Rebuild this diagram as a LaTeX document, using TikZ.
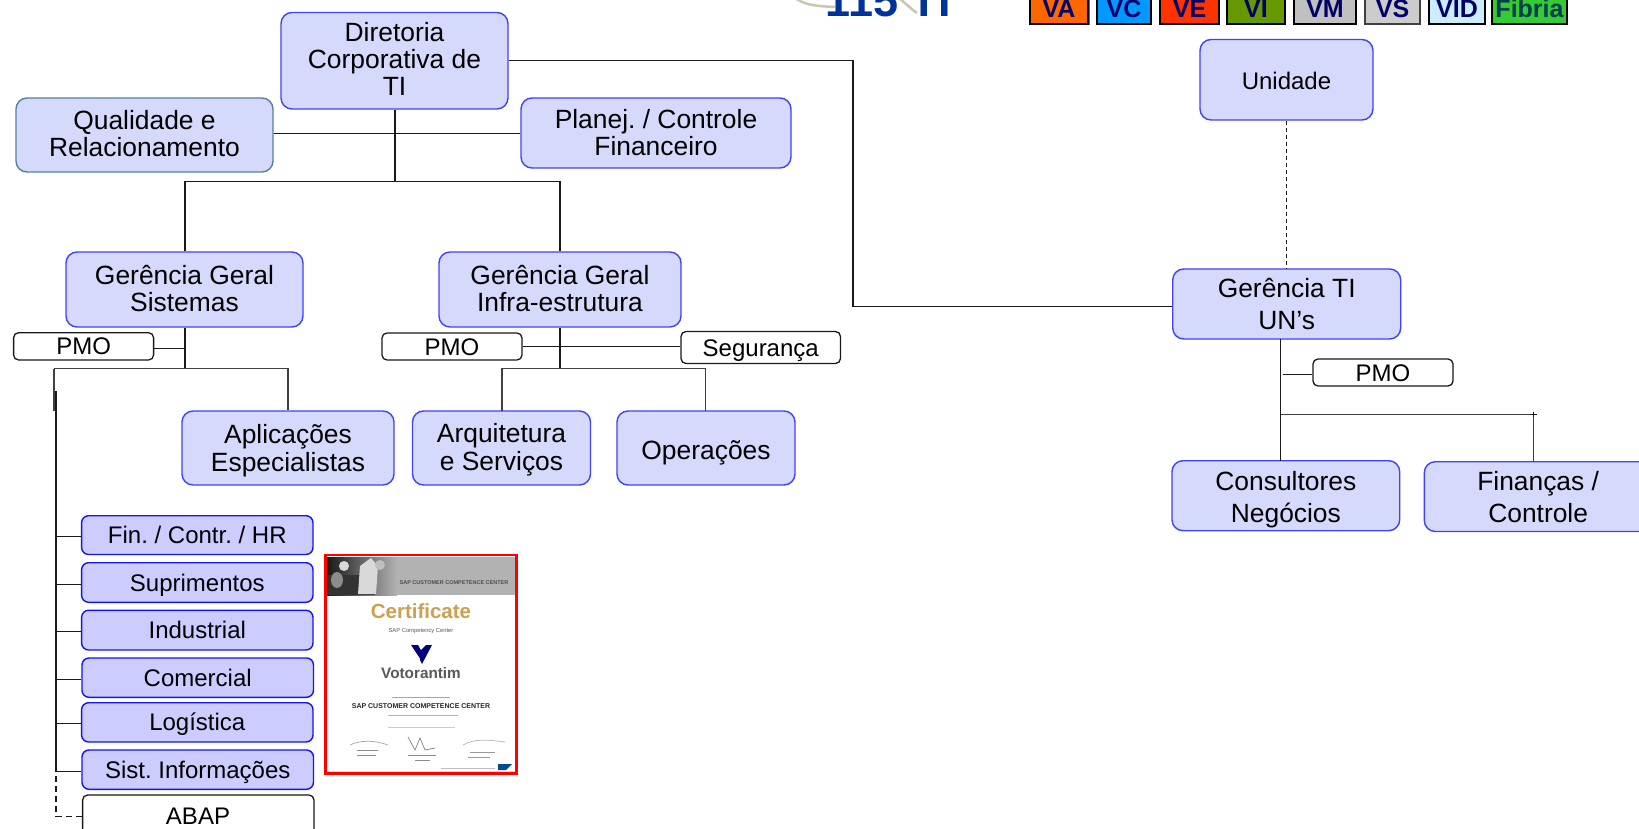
\documentclass[tikz,border=0pt]{standalone}
\usepackage{fontspec}
\setmainfont{Liberation Sans}
\frenchspacing
\definecolor{fillA}{RGB}{213,217,251}
\definecolor{fillB}{RGB}{204,204,255}
\definecolor{edgeA}{RGB}{65,65,245}
\definecolor{edgeB}{RGB}{20,20,240}
\definecolor{edgeQ}{RGB}{85,130,150}
\definecolor{wire}{RGB}{25,25,25}
\definecolor{navy}{RGB}{0,0,102}
\definecolor{tiblue}{RGB}{0,51,153}
\definecolor{logoarc}{RGB}{200,200,175}
\tikzset{
  big/.style={font=\fontsize{26.4}{27}\selectfont,align=center,text=black},
  widebox/.style={unitbox,font=\fontsize{26.4}{28}\selectfont},
  unitbox/.style={big,draw=edgeA,fill=fillA,line width=1.4pt,rounded corners=11pt,inner sep=0pt},
  tallbox/.style={unitbox,font=\fontsize{26.4}{32}\selectfont},
  listbox/.style={draw=edgeB,fill=fillB,line width=1.4pt,rounded corners=7pt,inner sep=0pt,font=\fontsize{24}{26}\selectfont,text=black,text height=17.2pt,text depth=0pt},
  whitebox/.style={draw=wire,fill=white,line width=1.3pt,rounded corners=5pt,inner sep=0pt,font=\fontsize{24}{26}\selectfont,text=black,text height=17.2pt,text depth=0pt},
  wireline/.style={draw=wire,line width=1.6pt},
  thickline/.style={draw=black!75,line width=1.9pt},
  dashline/.style={draw=wire,line width=1.3pt,dash pattern=on 6pt off 4pt},
  tab/.style={draw=black,line width=2pt,inner sep=0pt},
  tabtext/.style={font=\fontsize{25}{25}\selectfont\bfseries,text=navy,anchor=base,inner sep=0pt},
}
% name, x1, y1, x2, y2, style, text
\newcommand{\bx}[7]{\node[#6,minimum width={(#4-#2)*1pt},minimum height={(#5-#3)*1pt}] (#1) at ({(#2+#4)/2},{(#3+#5)/2}) {#7};}
\newcommand{\tall}[1]{\rule{0pt}{#1}}
\newcommand{\deep}[1]{\rule[-#1]{0pt}{#1}}
\begin{document}
\begin{tikzpicture}[x=1pt,y=-1pt]
\useasboundingbox (0,0) rectangle (1639,829);
\fill[white] (0,0) rectangle (1639,829);
\clip (0,0) rectangle (1639,829);

% logo arcs and title
\draw[color=logoarc,line width=2.5pt] (795,-2) .. controls (805,5) and (815,6) .. (835,7);
\draw[color=logoarc,line width=2.5pt] (899,-2) .. controls (905,3) and (910,8) .. (917,13);
\node[font=\fontsize{45}{45}\selectfont\bfseries,text=tiblue,anchor=base,inner sep=0pt] (title) at (888,17) {115 TI};

% tabs
\fill[black!60] (1029,-5) rectangle (1090,25);
\draw[tab,fill={rgb,255:red,255;green,102;blue,0}] (1030,-5) rectangle (1088,24);
\node[tabtext] (tva) at (1059,18) {VA};
\draw[tab,fill={rgb,255:red,0;green,153;blue,255}] (1097,-5) rectangle (1151,24);
\node[tabtext] (tvc) at (1124,18) {VC};
\draw[tab,fill={rgb,255:red,255;green,51;blue,0}] (1160,-5) rectangle (1219,24);
\node[tabtext] (tve) at (1189.5,18) {VE};
\draw[tab,fill={rgb,255:red,102;green,153;blue,0}] (1227,-5) rectangle (1285,24);
\node[tabtext] (tvi) at (1256,18) {VI};
\draw[tab,fill={rgb,255:red,192;green,192;blue,192}] (1294,-5) rectangle (1356,24);
\node[tabtext] (tvm) at (1325,18) {VM};
\draw[tab,draw=black!75,fill={rgb,255:red,204;green,204;blue,204}] (1365,-5) rectangle (1420,24);
\node[tabtext] (tvs) at (1392.5,18) {VS};
\draw[tab,fill={rgb,255:red,204;green,236;blue,255}] (1429,-5) rectangle (1485,24);
\node[tabtext] (tvid) at (1457,18) {VID};
\draw[tab,fill={rgb,255:red,51;green,204;blue,51}] (1492,-5) rectangle (1567,24);
\node[tabtext,text={rgb,255:red,0;green,60;blue,80}] (tfib) at (1529.5,18) {Fibria};

% coordinates for junctions
\coordinate (jtop) at (395,181.5);
\coordinate (jl) at (184.7,181.5);
\coordinate (jr) at (559.7,181.5);
\coordinate (jsys) at (184.7,368.5);
\coordinate (jinf) at (559.7,368.5);
\coordinate (jrt) at (853,60.5);
\coordinate (jrb) at (853,306.5);
\coordinate (jpmo) at (1283,374.5);
\coordinate (jun) at (1280.5,414.5);
\coordinate (junr) at (1533.5,414.5);
\coordinate (jlist) at (54,368.5);
\coordinate (jlist2) at (56,391);

% boxes
\bx{dir}{281}{12.5}{508}{109}{unitbox}{Diretoria\\Corporativa de\\TI\deep{4pt}}
\bx{qual}{16}{98}{273}{172}{unitbox,draw=edgeQ}{Qualidade e\\Relacionamento\deep{4pt}}
\bx{plan}{521}{98}{791}{168}{unitbox}{Planej. / Controle\\Financeiro}
\bx{ggs}{66}{252}{303}{327}{unitbox}{Gerência Geral\\Sistemas\deep{2pt}}
\bx{ggi}{439}{252}{681}{327}{unitbox}{Gerência Geral\\Infra-estrutura\deep{2pt}}
\bx{apl}{182}{411}{394}{485}{widebox}{\tall{23.5pt}Aplicações\\Especialistas}
\bx{arq}{412.5}{411}{590.5}{485}{widebox}{\tall{22.5pt}Arquitetura\\e Serviços}
\bx{ope}{617}{411}{795}{485}{unitbox}{\tall{29.5pt}Operações}
\bx{uni}{1200}{39.5}{1373}{120}{unitbox,font=\fontsize{24}{26}\selectfont}{\tall{20pt}Unidade}
\bx{gun}{1172.7}{269}{1400.7}{339}{tallbox}{Gerência TI\\UN’s}
\bx{con}{1172}{460.7}{1399.7}{530.7}{tallbox}{\tall{27.5pt}Consultores\\Negócios}
\bx{fin}{1424.3}{461.7}{1652}{531.5}{tallbox}{\tall{21pt}Finanças /\\Controle}

\bx{pmoa}{13.6}{332.7}{153.6}{360}{whitebox}{PMO}
\bx{pmob}{382}{333}{522}{360}{whitebox}{PMO}
\bx{seg}{681}{331.5}{840.5}{363.5}{whitebox}{Segurança}
\bx{pmoc}{1313}{359}{1453}{386}{whitebox}{PMO}

\bx{l1}{81.6}{515.7}{313}{554.5}{listbox}{Fin. / Contr. / HR}
\bx{l2}{81.6}{562.7}{313}{602.3}{listbox}{Suprimentos}
\bx{l3}{81.6}{610.3}{313}{650}{listbox}{Industrial}
\bx{l4}{82}{658}{313.5}{697.3}{listbox}{Comercial}
\bx{l5}{81.6}{702.7}{313}{742}{listbox}{Logística}
\bx{l6}{82}{750}{313.5}{789.3}{listbox}{Sist. Informações}
\bx{l7}{82.6}{795}{314}{850}{whitebox}{}
\node[font=\fontsize{24}{26}\selectfont,inner sep=0pt] (abap) at (198,816) {ABAP};

% connectors
\draw[wireline] (dir.south -| jtop) -- (jtop);
\draw[wireline] (jl) -- (jr);
\draw[wireline] (qual.east |- 0,133.5) -- (plan.west |- 0,133.5);
\draw[wireline] (jl) -- (ggs.north -| jl);
\draw[wireline] (jr) -- (ggi.north -| jr);
\draw[wireline] (dir.east |- jrt) -- (jrt) -- (jrb) -- (gun.west |- jrb);
\draw[wireline] (ggs.south -| jsys) -- (jsys);
\draw[wireline] (pmoa.east |- 0,348.5) -- (184.7,348.5);
\draw[thickline] (jlist) -- (jsys);
\draw[thickline] (jsys) -- (288,368.5) -- (apl.north -| 288,0);
\draw[wireline] (ggi.south -| jinf) -- (jinf);
\draw[wireline] (pmob.east |- 0,346.5) -- (seg.west |- 0,346.5);
\draw[thickline] (502,411) -- (502,368.5) -- (705.5,368.5) -- (705.5,411);
\draw[thickline] (jlist) -- (54,411);
\draw[wireline] (jlist2) -- (56,771.5);
\draw[wireline] (56,536.5) -- (l1.west |- 0,536.5);
\draw[wireline] (56,584.5) -- (l2.west |- 0,584.5);
\draw[wireline] (56,631.5) -- (l3.west |- 0,631.5);
\draw[wireline] (56,679.5) -- (l4.west |- 0,679.5);
\draw[wireline] (56,723.5) -- (l5.west |- 0,723.5);
\draw[wireline] (56,771.5) -- (l6.west |- 0,771.5);
\draw[dashline] (56,746) -- (56,816.5) -- (l7.west |- 0,816.5);
\draw[dashline,line width=1pt,dash pattern=on 4pt off 3pt] (uni.south) -- (uni.south |- gun.north);
\draw[wireline] (1280.5,339) -- (1280.5,460.7);
\draw[wireline] (jpmo) -- (1312,374.5);
\draw[thickline] (jun) -- (junr);
\draw[thickline] (junr) -- (1533.5,461.7);
\draw[wireline] (1530,414.5) -- (1537,414.5);
\draw[wireline] (1533.5,411.5) -- (1533.5,417);

% certificate
\fill[black!30] (327,557) rectangle (515,595);
\shade[left color=black!90,right color=black!30] (327,557) rectangle (397,595);
\fill[black!80] (327,575) rectangle (375,595);
\fill[white!85!black] (360,566) -- (371,558) -- (378,566) -- (376,594) -- (358,594) -- cycle;
\fill[black!15] (344,566) circle (5);
\fill[black!25] (380,565) circle (5);
\fill[black!45] (337,580) ellipse (6 and 8);
\node[font=\fontsize{5.5}{6}\selectfont\bfseries,text=black!70,inner sep=0pt] (cband) at (454,583) {SAP CUSTOMER COMPETENCE CENTER};
\node[font=\fontsize{20.5}{20}\selectfont\bfseries,text={rgb,255:red,205;green,160;blue,80},inner sep=0pt] (ctitle) at (421,611) {Certificate};
\node[font=\fontsize{5.8}{7}\selectfont,text=black!65,inner sep=0pt] (csub) at (421,631) {SAP Competency Center};
\fill[navy!85!blue] (411,645) -- (418,645) -- (423,654) -- (421,660) -- cycle;
\fill[navy!85!blue] (421,650) -- (426,645) -- (432,645) -- (422,664) -- (420,660) -- cycle;
\node[font=\fontsize{15.3}{14}\selectfont\bfseries,text=black!65,inner sep=0pt] (cvot) at (421,673) {Votorantim};
\draw[black!35,line width=0.8pt] (392,697) -- (450,697);
\node[font=\fontsize{7}{7}\selectfont\bfseries,text=black!85,inner sep=0pt] (cscc) at (421,706) {SAP CUSTOMER COMPETENCE CENTER};
\draw[black!30,line width=0.8pt] (388,715) -- (458,715);
\draw[black!20,line width=0.8pt] (388,727) -- (455,727);
\draw[black!35,line width=0.7pt] (350,745) .. controls (360,740) and (375,740) .. (388,745);
\draw[black!45,line width=0.7pt] (357,750) -- (378,750) (357,755) -- (376,755);
\draw[black!50,line width=0.7pt] (408,737) -- (415,750) -- (420,738) -- (425,750) -- (435,748);
\draw[black!45,line width=0.7pt] (408,755) -- (436,755) (415,760) -- (430,760);
\draw[black!30,line width=0.7pt] (463,745) .. controls (475,738) and (490,740) .. (505,742);
\draw[black!40,line width=0.7pt] (470,752) -- (495,752) (468,757) -- (490,757);
\draw[black!25,line width=0.7pt] (441,768) -- (495,768);
\fill[navy!70!cyan] (498,764) -- (512,764) -- (506,770) -- (498,770) -- cycle;
\fill[black!15] (327,771) rectangle (515,773);
\draw[red,line width=2.2pt] (325.5,555) rectangle (516.5,773.5);
\end{tikzpicture}
\end{document}
